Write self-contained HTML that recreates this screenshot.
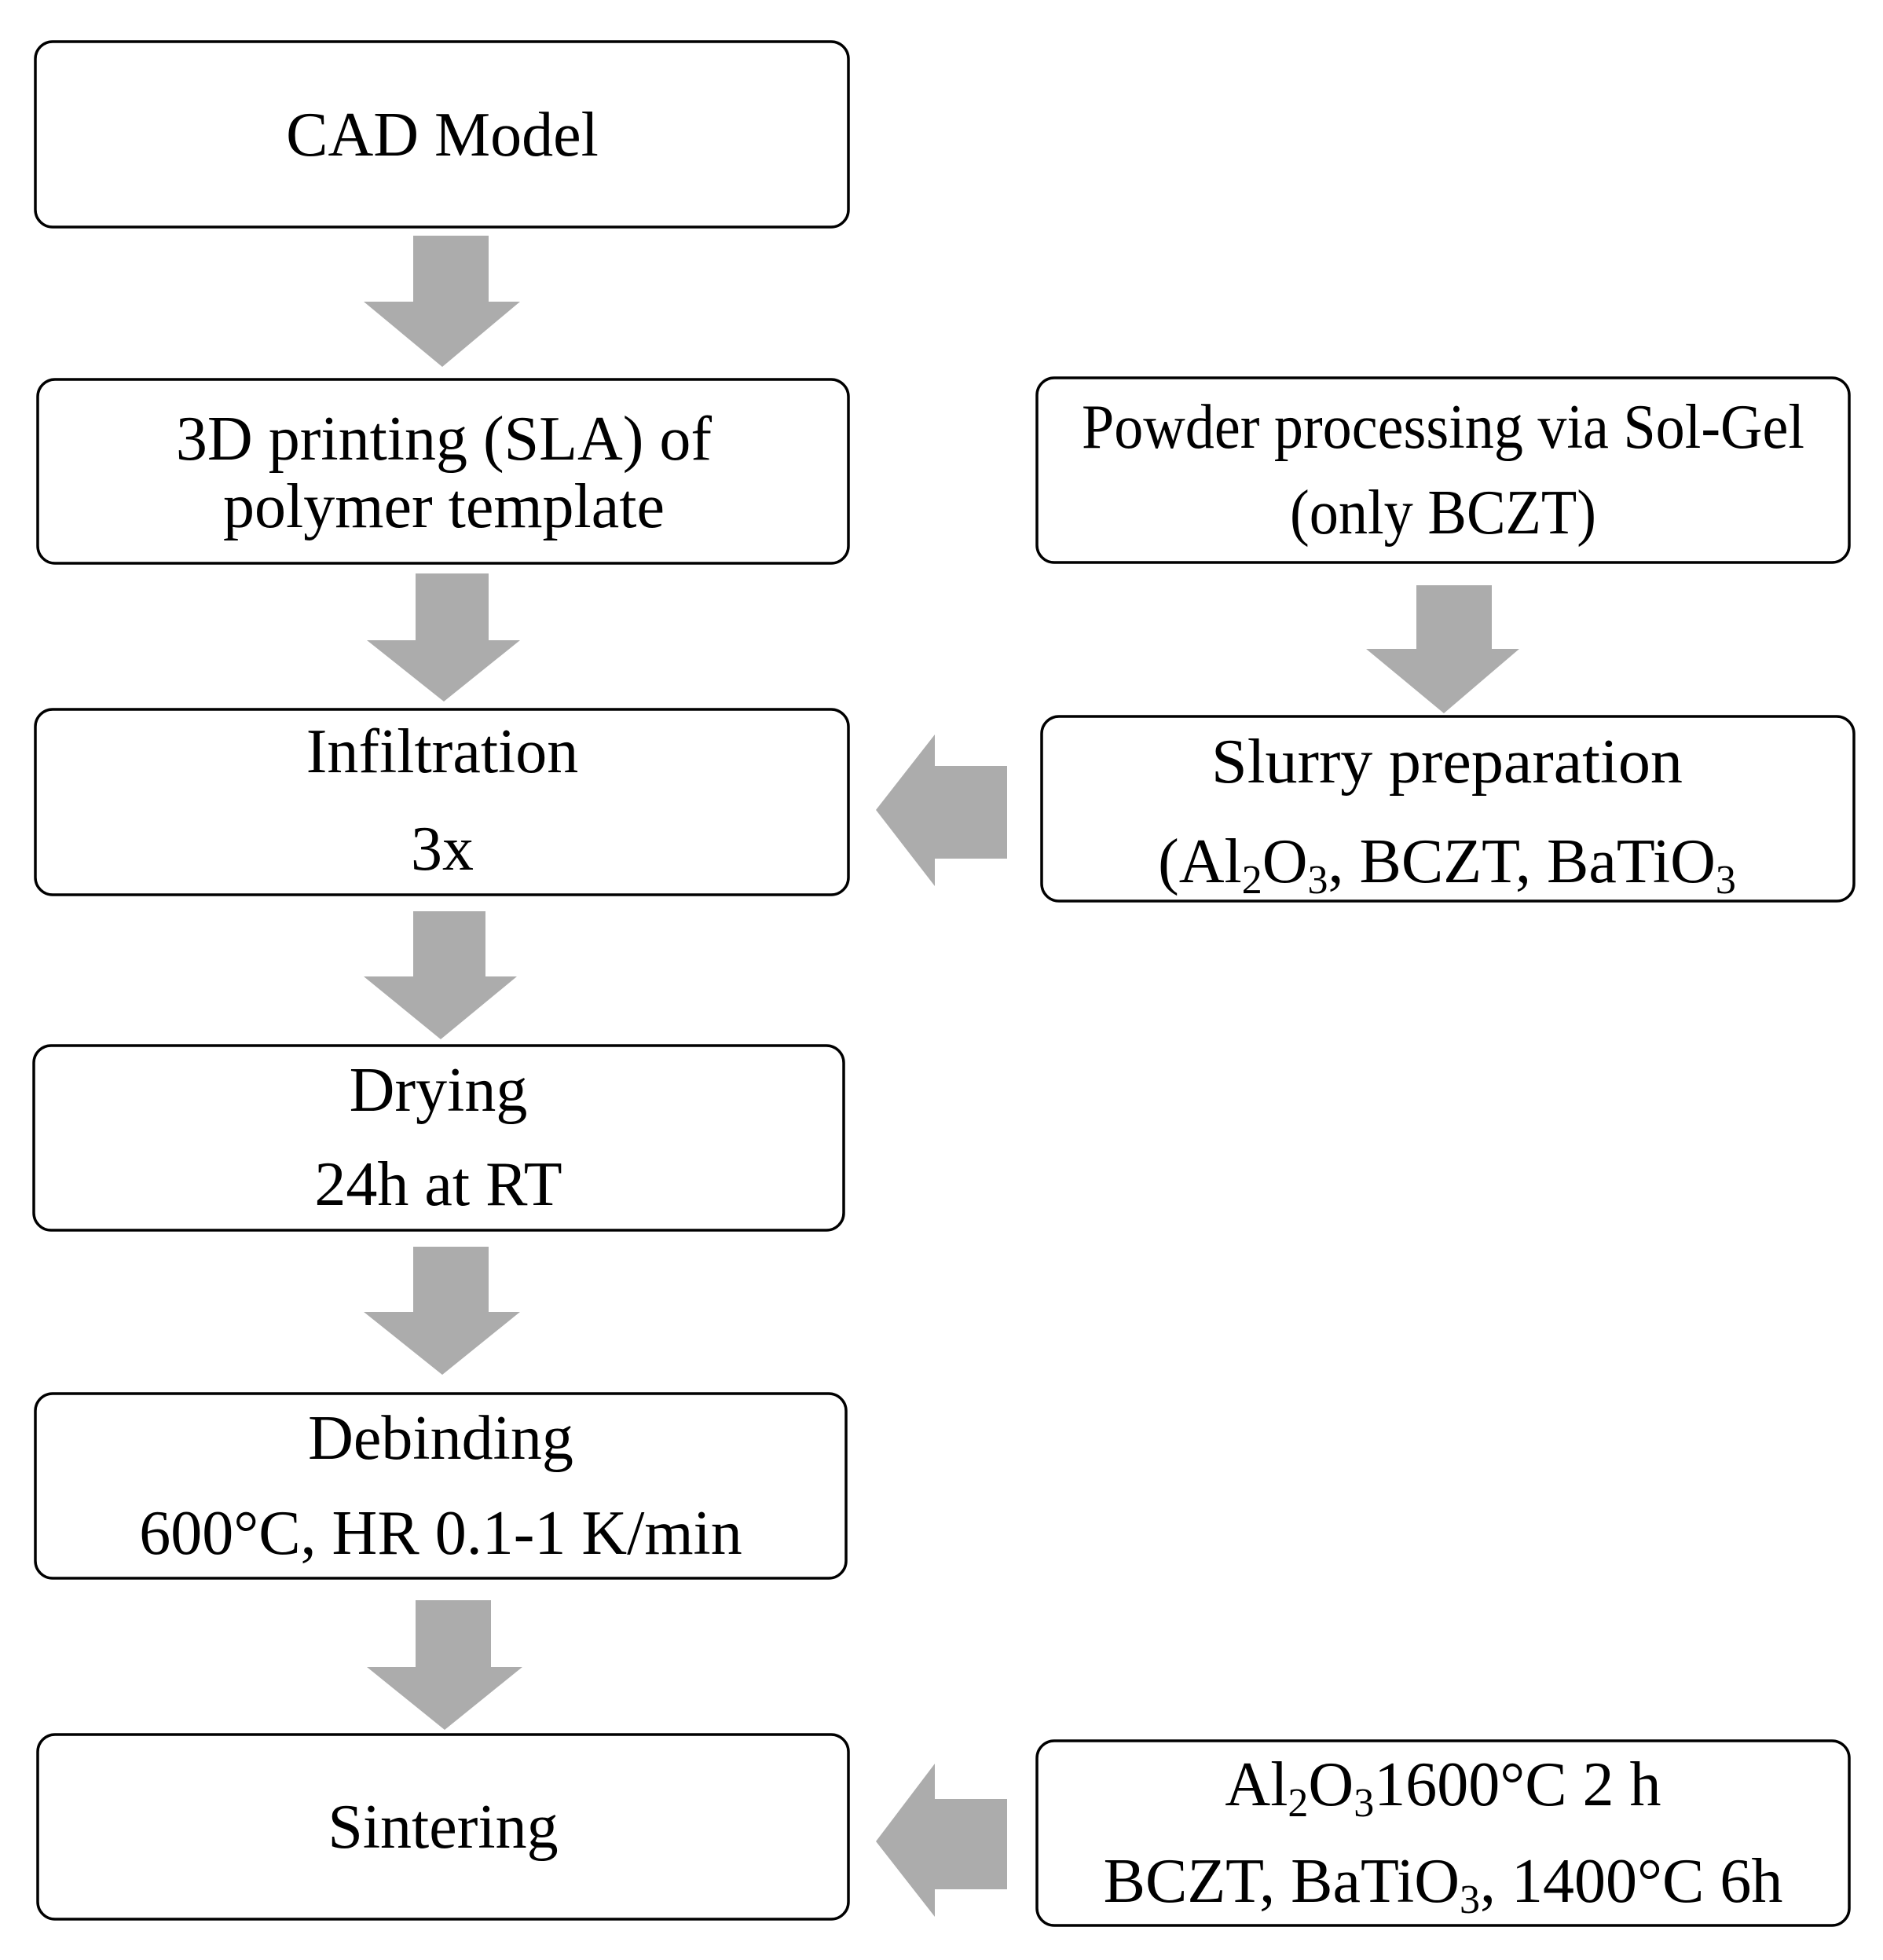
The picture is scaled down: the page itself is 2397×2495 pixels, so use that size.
<!DOCTYPE html>
<html><head><meta charset="utf-8"><style>html,body{margin:0;padding:0;background:#fff}svg{display:block}</style></head>
<body>
<svg width="2397" height="2495" viewBox="0 0 2397 2495" xmlns="http://www.w3.org/2000/svg" font-family="'Liberation Serif', serif" font-size="80" fill="#000">
<rect width="2397" height="2495" fill="#fff"/>
<g fill="#fff" stroke="#000" stroke-width="3.5">
<rect x="45" y="53" width="1035" height="236" rx="22"/>
<rect x="48" y="483" width="1032" height="234" rx="22"/>
<rect x="1320" y="481" width="1034" height="235" rx="22"/>
<rect x="45" y="903" width="1035" height="236" rx="22"/>
<rect x="1326" y="912" width="1034" height="235" rx="22"/>
<rect x="43" y="1331" width="1031" height="235" rx="22"/>
<rect x="45" y="1774" width="1032" height="235" rx="22"/>
<rect x="48" y="2208" width="1032" height="235" rx="22"/>
<rect x="1320" y="2216" width="1034" height="235" rx="22"/>
</g>
<g fill="#acacac">
<polygon points="526,300 622,300 622,384 662,384 563,467 463,384 526,384"/>
<polygon points="529,730 622,730 622,815 662,815 565,893 467,815 529,815"/>
<polygon points="526,1160 618,1160 618,1243 658,1243 561,1323 463,1243 526,1243"/>
<polygon points="526,1587 622,1587 622,1670 662,1670 563,1750 463,1670 526,1670"/>
<polygon points="529,2037 625,2037 625,2122 665,2122 566,2202 467,2122 529,2122"/>
<polygon points="1803,745 1899,745 1899,826 1934,826 1838,908 1739,826 1803,826"/>
<polygon points="1282,975 1282,1093 1190,1093 1190,1128 1115,1031 1190,935 1190,975"/>
<polygon points="1282,2290 1282,2405 1190,2405 1190,2440 1115,2344 1190,2245 1190,2290"/>
</g>
<g text-anchor="middle">
<text x="563" y="198">CAD Model</text>
<text x="565" y="585">3D printing (SLA) of</text>
<text x="565" y="671">polymer template</text>
<text x="1837" y="570" textLength="920" lengthAdjust="spacingAndGlyphs">Powder processing via Sol-Gel</text>
<text x="1837" y="679" textLength="390" lengthAdjust="spacingAndGlyphs">(only BCZT)</text>
<text x="563" y="983">Infiltration</text>
<text x="563" y="1107">3x</text>
<text x="1842" y="996" textLength="600" lengthAdjust="spacingAndGlyphs">Slurry preparation</text>
<text x="1842" y="1123">(Al<tspan font-size="52" dy="14">2</tspan><tspan dy="-14">O</tspan><tspan font-size="52" dy="14">3</tspan><tspan dy="-14">, BCZT, BaTiO</tspan><tspan font-size="52" dy="14">3</tspan></text>
<text x="558" y="1414">Drying</text>
<text x="558" y="1534">24h at RT</text>
<text x="561" y="1857">Debinding</text>
<text x="561" y="1978">600°C, HR 0.1-1 K/min</text>
<text x="564" y="2352">Sintering</text>
<text x="1837" y="2298">Al<tspan font-size="52" dy="14">2</tspan><tspan dy="-14">O</tspan><tspan font-size="52" dy="14">3</tspan><tspan dy="-14">1600°C 2 h</tspan></text>
<text x="1837" y="2421">BCZT, BaTiO<tspan font-size="52" dy="14">3</tspan><tspan dy="-14">, 1400°C 6h</tspan></text>
</g>
</svg>
</body></html>
